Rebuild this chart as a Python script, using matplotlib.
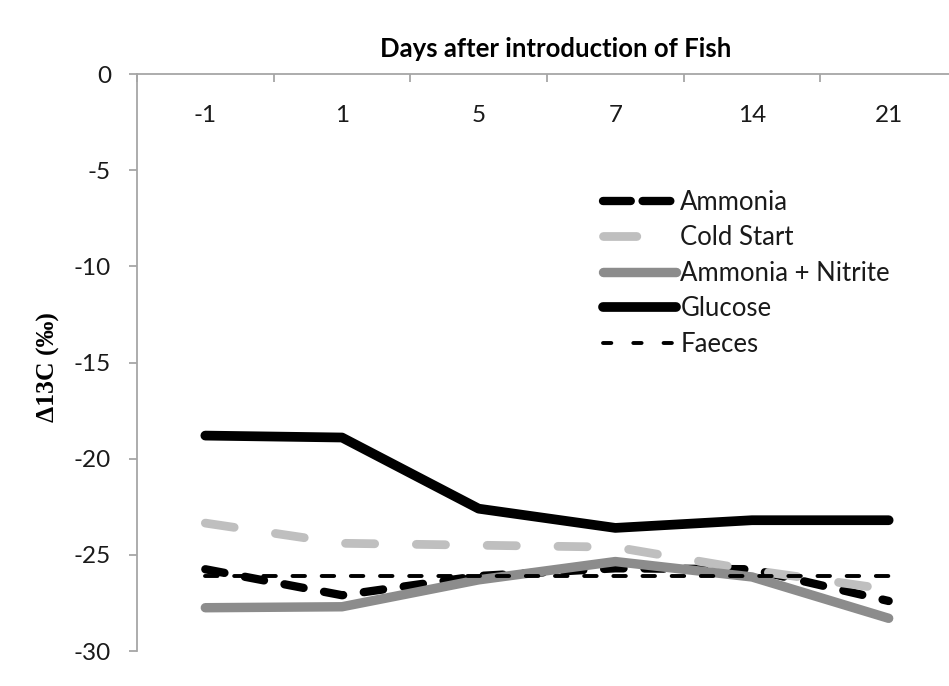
import matplotlib
matplotlib.use("Agg")
import matplotlib.pyplot as plt
import numpy as np

# ---- data ----
days = ["-1", "1", "5", "7", "14", "21"]
ammonia = [-25.75, -27.1, -26.1, -25.7, -25.75, -27.4]
cold_start = [-23.35, -24.4, -24.5, -24.6, -25.8, -26.8]
ammonia_nitrite = [-27.75, -27.7, -26.3, -25.35, -26.15, -28.3]
glucose = [-18.8, -18.9, -22.6, -23.6, -23.2, -23.2]
faeces = [-26.1, -26.1, -26.1, -26.1, -26.1, -26.1]
yticks = [0, -5, -10, -15, -20, -25, -30]

plt.rcParams['font.family'] = ['Lato', 'DejaVu Sans']
plt.rcParams['lines.scale_dashes'] = False

W, H = 949, 686
fig = plt.figure(figsize=(W / 100, H / 100), dpi=100)
left, right, top, bottom = 137, 957, 74, 651
ax = fig.add_axes([left / W, 1 - bottom / H, (right - left) / W, (bottom - top) / H])

x = np.arange(len(days))
spine_col = '#A6A6A6'

ax.plot(x, ammonia, color='black', lw=6.0, dashes=(14, 15), dash_capstyle='round',
        solid_capstyle='round', label='Ammonia')
ax.plot(x, cold_start, color='#BFBFBF', lw=6.3, dashes=(21, 30), dash_capstyle='round',
        solid_capstyle='round', label='Cold Start')
ax.plot(x, ammonia_nitrite, color='#8C8C8C', lw=6.8, solid_capstyle='round',
        label='Ammonia + Nitrite')
ax.plot(x, glucose, color='black', lw=7.0, solid_capstyle='round', label='Glucose')
ax.plot(x, faeces, color='black', lw=2.8, dashes=(9, 12), dash_capstyle='round',
        label='Faeces')

ax.set_xlim(-0.5, len(days) - 0.5)
ax.set_ylim(-30, 0)

for s in ['right', 'bottom']:
    ax.spines[s].set_visible(False)
for s in ['left', 'top']:
    ax.spines[s].set_color(spine_col)
    ax.spines[s].set_linewidth(1.3)

ax.xaxis.tick_top()
ax.set_xticks(np.arange(len(days) + 1) - 0.5)
ax.set_xticklabels([])
ax.set_xticks(x, minor=True)
ax.set_xticklabels(days, minor=True)
ax.tick_params(axis='x', which='major', direction='in', length=5.5, width=1.3,
               color=spine_col, top=True, bottom=False)
ax.tick_params(axis='x', which='minor', length=0, top=False, bottom=False,
               labeltop=True, labelbottom=False, pad=-37.5, labelsize=17.5,
               labelcolor='#1a1a1a')

ax.set_yticks(yticks)
ax.set_yticklabels([str(v) for v in yticks])
ax.tick_params(axis='y', direction='out', length=5.8, width=1.3, color=spine_col,
               pad=13, labelsize=17.5, labelcolor='#1a1a1a')

fig.text(556 / W, 1 - 49 / H, 'Days after introduction of Fish', ha='center',
         va='center', fontsize=18.5, fontweight='bold')
fig.text(48 / W, 1 - 367 / H, 'Δ13C (‰)', rotation=90, ha='center', va='center',
         fontsize=18.5, fontweight='bold', family=['Liberation Serif', 'DejaVu Serif'])

leg = ax.legend(loc='upper left', bbox_to_anchor=(603 / W, 1 - 189.5 / H),
                bbox_transform=fig.transFigure, frameon=False, fontsize=18.5,
                handlelength=2.85, handletextpad=0.16, labelspacing=0.41,
                borderaxespad=0, borderpad=0)
for txt in leg.get_texts():
    txt.set_color('#1a1a1a')
lh = leg.get_lines()
lh[0].set_dashes((20, 8.5))
lh[1].set_dashes((24, 60))
lh[4].set_dashes((6, 15.8))

fig.savefig('out.png', dpi=100)
